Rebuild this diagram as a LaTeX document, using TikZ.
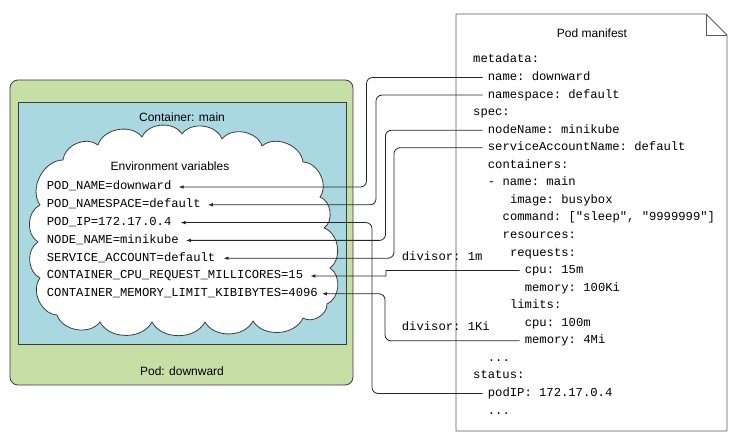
\documentclass[tikz,border=0pt]{standalone}
\usepackage{fontspec}
\setmainfont{Liberation Sans}
\setmonofont{Liberation Mono}
\usetikzlibrary{arrows.meta}
\definecolor{podgreen}{RGB}{199,222,166}
\definecolor{ctblue}{RGB}{170,216,224}
\definecolor{edgegray}{RGB}{60,60,60}
\definecolor{pagegray}{RGB}{90,90,90}
\begin{document}
\begin{tikzpicture}[x=1bp,y=-1bp,
  lbl/.style={font=\fontsize{12bp}{14bp}\selectfont, inner sep=0pt},
  code/.style={font=\ttfamily\fontsize{12.2bp}{14bp}\selectfont, inner sep=0pt, anchor=west, text height=8bp, text depth=2bp},
  conn/.style={draw=black!85, line width=0.8bp, rounded corners=6bp, -{Latex[length=5bp,width=3.6bp]}},
  boxline/.style={draw=edgegray, line width=0.8bp},
  puff/.style={bend left=62},
]
\useasboundingbox (0,0) rectangle (736,440);

% Pod manifest page
\draw[draw=pagegray, fill=white, line width=0.8bp] (456,14) -- (706,14) -- (727,35) -- (727,431) -- (456,431) -- cycle;
\draw[draw=pagegray, line width=0.8bp] (706,14) -- (706,35) -- (727,35);
\node[lbl] (ptitle) at (592,33) {Pod manifest};

% Pod and container
\draw[boxline, fill=podgreen, rounded corners=8bp] (10,80) rectangle (353,385);
\draw[boxline, fill=ctblue] (18,102) rectangle (346,344);
\node[lbl] (ctitle) at (182,117) {Container: main};
\node[lbl] (podtitle) at (182,371) {Pod: downward};

% Cloud
\draw[boxline, fill=white, line join=round]
  (40,278) to[puff] (38,242) to[puff] (40,205) to[puff] (63,160)
  to[puff] (98,145) to[puff] (142,137) to[puff] (182,134) to[puff] (222,139)
  to[puff] (262,146) to[puff] (303,162) to[puff] (320,197) to[puff] (324,228)
  to[puff] (330,268) to[puff] (327,304) to[puff] (303,318) to[puff] (253,321)
  to[puff] (205,322) to[puff] (152,322) to[puff] (100,322) to[puff] (57,315)
  to[puff] (40,278) -- cycle;
\node[lbl] (envtitle) at (170,166) {Environment variables};

% Environment variables
\node[code] (e1) at (46.7,187) {POD\_NAME=downward};
\node[code] (e2) at (46.7,204.8) {POD\_NAMESPACE=default};
\node[code] (e3) at (46.7,222.6) {POD\_IP=172.17.0.4};
\node[code] (e4) at (46.7,240.4) {NODE\_NAME=minikube};
\node[code] (e5) at (46.7,258.2) {SERVICE\_ACCOUNT=default};
\node[code] (e6) at (46.7,276) {CONTAINER\_CPU\_REQUEST\_MILLICORES=15};
\node[code] (e7) at (46.7,293.8) {CONTAINER\_MEMORY\_LIMIT\_KIBIBYTES=4096};

% Manifest lines
\node[code] (m0) at (473,60) {metadata:};
\node[code] (m1) at (487.7,77.55) {name: downward};
\node[code] (m2) at (487.7,95.1) {namespace: default};
\node[code] (m3) at (473,112.65) {spec:};
\node[code] (m4) at (487.7,130.2) {nodeName: minikube};
\node[code] (m5) at (487.7,147.75) {serviceAccountName: default};
\node[code] (m6) at (487.7,165.3) {containers:};
\node[code] (m7) at (487.7,182.85) {- name: main};
\node[code] (m8) at (509.9,200.4) {image: busybox};
\node[code] (m9) at (502.5,217.95) {command: ["sleep", "9999999"]};
\node[code] (m10) at (502.5,235.5) {resources:};
\node[code] (m11) at (509.9,253.05) {requests:};
\node[code] (m12) at (524.6,270.6) {cpu: 15m};
\node[code] (m13) at (524.6,288.15) {memory: 100Ki};
\node[code] (m14) at (509.9,305.7) {limits:};
\node[code] (m15) at (524.6,323.25) {cpu: 100m};
\node[code] (m16) at (524.6,340.8) {memory: 4Mi};
\node[code] (m17) at (487.7,358.35) {...};
\node[code] (m18) at (473,375.9) {status:};
\node[code] (m19) at (487.7,393.45) {podIP: 172.17.0.4};
\node[code] (m20) at (487.7,411) {...};

% Divisor labels
\node[code] (d1) at (401.7,258) {divisor: 1m};
\node[code] (d2) at (401.7,328) {divisor: 1Ki};

% Connector columns
\coordinate (k1) at (366.5,0);
\coordinate (k2) at (376,0);
\coordinate (k3) at (372,0);
\coordinate (k4) at (385.5,0);
\coordinate (k5) at (394,0);
\coordinate (k6a) at (380,0);
\coordinate (k6m) at (386,0);
\coordinate (k6b) at (392,0);
\coordinate (k7) at (385,0);

% Connectors
\draw[conn] ([xshift=-5bp]m1.west) -- (k1 |- m1.west) -- (k1 |- e1.east) -- ([xshift=7bp]e1.east);
\draw[conn] ([xshift=-5bp]m2.west) -- (k2 |- m2.west) -- (k2 |- e2.east) -- ([xshift=7bp]e2.east);
\draw[conn] ([xshift=-5bp]m19.west) -- (k3 |- m19.west) -- (k3 |- e3.east) -- ([xshift=9bp]e3.east);
\draw[conn] ([xshift=-5bp]m4.west) -- (k4 |- m4.west) -- (k4 |- e4.east) -- ([xshift=7bp]e4.east);
\draw[conn] ([xshift=-5bp]m5.west) -- (k5 |- m5.west) -- (k5 |- e5.east) -- ([xshift=8bp]e5.east);
\draw[conn] ([xshift=-5bp]m12.west) -- (k6b |- m12.west) .. controls (k6m |- m12.west) and (k6m |- e6.east) .. (k6a |- e6.east) -- ([xshift=7bp]e6.east);
\draw[conn] ([xshift=-5bp]m16.west) -- (k7 |- m16.west) -- (k7 |- e7.east) -- ([xshift=4bp]e7.east);
\end{tikzpicture}
\end{document}
